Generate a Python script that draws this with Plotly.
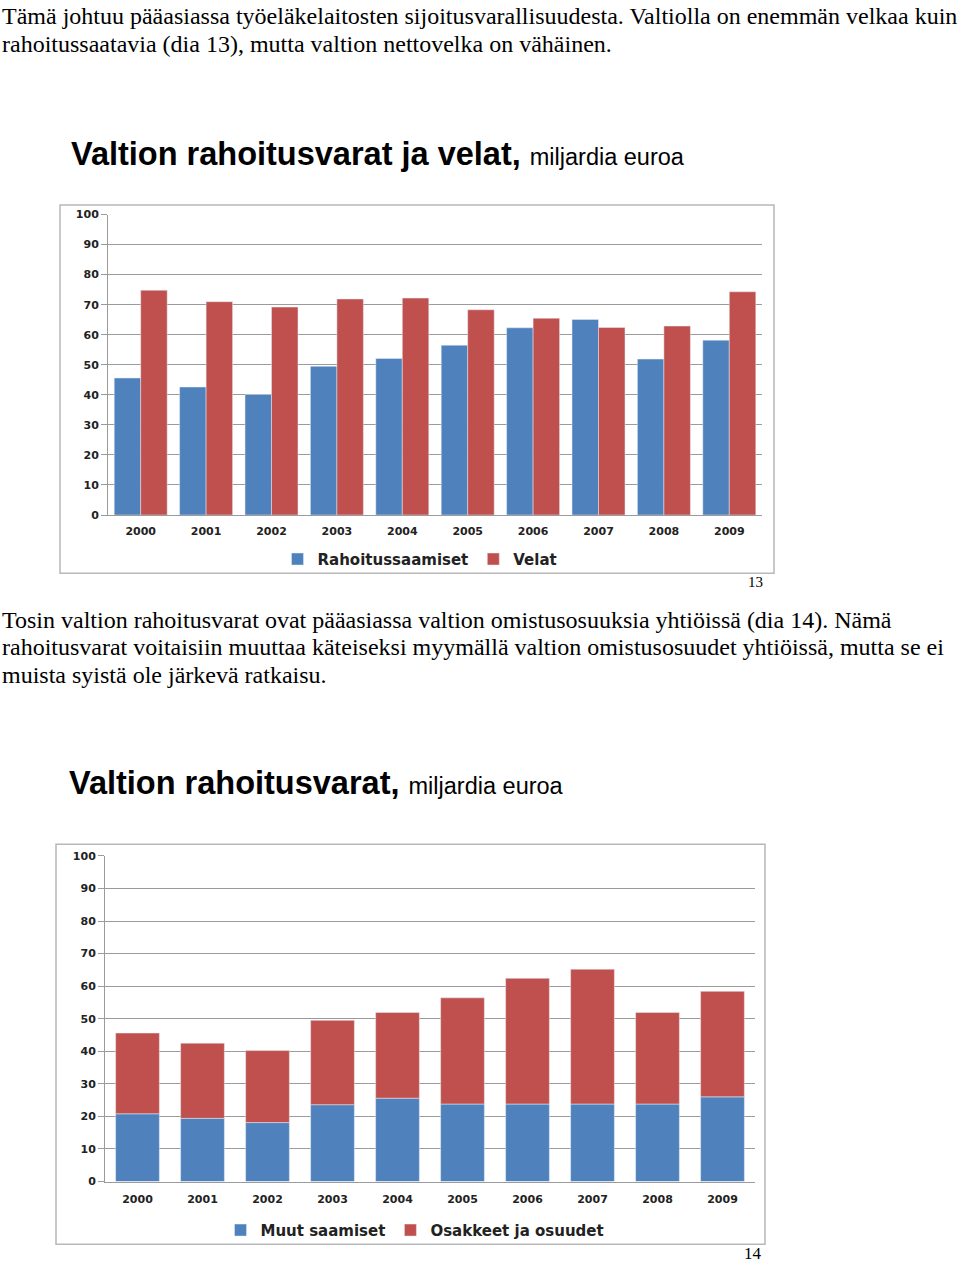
import plotly.graph_objects as go

W, H = 960, 1268


def px(x):
    return x / W


def py(y):
    return 1 - y / H


# ---------------- data ----------------
years = ["2000", "2001", "2002", "2003", "2004", "2005", "2006", "2007", "2008", "2009"]

# chart 1: Valtion rahoitusvarat ja velat
rahoitussaamiset = [45.6, 42.6, 40.1, 49.5, 52.1, 56.5, 62.3, 65.1, 51.9, 58.2]
velat = [74.8, 71.0, 69.2, 71.9, 72.2, 68.3, 65.5, 62.4, 62.9, 74.3]

# chart 2: Valtion rahoitusvarat (stacked)
muut_saamiset = [20.8, 19.4, 18.1, 23.6, 25.6, 23.8, 23.8, 23.8, 23.8, 26.0]
osakkeet_ja_osuudet = [24.8, 23.1, 22.1, 25.9, 26.3, 32.6, 38.6, 41.4, 28.1, 32.4]

y_ticks = [0, 10, 20, 30, 40, 50, 60, 70, 80, 90, 100]

BLUE = "#4F81BD"
RED = "#C0504D"
GRID = "#9b9b9b"
TICKFONT = dict(family="DejaVu Sans", size=11, color="#222222", weight="bold")
LEGFONT = dict(family="DejaVu Sans", size=15, color="#222222", weight="bold")

para1 = [
    "Tämä johtuu pääasiassa työeläkelaitosten sijoitusvarallisuudesta. Valtiolla on enemmän velkaa kuin",
    "rahoitussaatavia (dia 13), mutta valtion nettovelka on vähäinen.",
]
para2 = [
    "Tosin valtion rahoitusvarat ovat pääasiassa valtion omistusosuuksia yhtiöissä (dia 14). Nämä",
    "rahoitusvarat voitaisiin muuttaa käteiseksi myymällä valtion omistusosuudet yhtiöissä, mutta se ei",
    "muista syistä ole järkevä ratkaisu.",
]

fig = go.Figure()

# chart 1 bars (grouped via explicit offsets)
bw1 = 0.405
fig.add_trace(go.Bar(x=years, y=rahoitussaamiset, name="Rahoitussaamiset", marker_color=BLUE,
                     width=bw1, offset=-bw1, xaxis="x", yaxis="y", legend="legend"))
fig.add_trace(go.Bar(x=years, y=velat, name="Velat", marker_color=RED,
                     width=bw1, offset=0, xaxis="x", yaxis="y", legend="legend"))

# chart 2 bars (stacked via base)
bw2 = 0.673
fig.add_trace(go.Bar(x=years, y=muut_saamiset, name="Muut saamiset", marker_color=BLUE,
                     width=bw2, offset=-bw2 / 2, xaxis="x2", yaxis="y2", legend="legend2"))
fig.add_trace(go.Bar(x=years, y=osakkeet_ja_osuudet, base=muut_saamiset, name="Osakkeet ja osuudet",
                     marker_color=RED, width=bw2, offset=-bw2 / 2, xaxis="x2", yaxis="y2",
                     legend="legend2"))

xcommon = dict(type="category", showgrid=False, showline=True, linecolor=GRID, linewidth=1,
               ticks="", tickfont=TICKFONT, fixedrange=True)
ycommon = dict(range=[0, 100], tickvals=y_ticks, showgrid=True, gridcolor=GRID, gridwidth=1,
               showline=True, linecolor=GRID, linewidth=1, ticks="outside", ticklen=6,
               tickcolor=GRID, tickfont=TICKFONT, zeroline=False, fixedrange=True)

BODYFONT = dict(family="Liberation Serif", size=24, color="#000000")
annotations = []
for i, line in enumerate(para1):
    annotations.append(dict(text=line, x=0, y=py(10.5 + 28 * i), xref="paper", yref="paper",
                            xanchor="left", yanchor="middle", showarrow=False, font=BODYFONT))
for i, line in enumerate(para2):
    annotations.append(dict(text=line, x=0, y=py(620.5 + 27.5 * i), xref="paper", yref="paper",
                            xanchor="left", yanchor="middle", showarrow=False, font=BODYFONT))

annotations.append(dict(
    text="<b>Valtion rahoitusvarat ja velat,</b> <span style='font-size:23.5px'>miljardia euroa</span>",
    x=px(69), y=py(150), xref="paper", yref="paper", xanchor="left", yanchor="middle",
    showarrow=False, font=dict(family="Liberation Sans", size=32.5, color="#000000")))
annotations.append(dict(
    text="<b>Valtion rahoitusvarat,</b> <span style='font-size:23.5px'>miljardia euroa</span>",
    x=px(67), y=py(785), xref="paper", yref="paper", xanchor="left", yanchor="middle",
    showarrow=False, font=dict(family="Liberation Sans", size=32.5, color="#000000")))

annotations.append(dict(text="13", x=px(755), y=py(582), xref="paper", yref="paper",
                        xanchor="center", yanchor="middle", showarrow=False,
                        font=dict(family="Liberation Serif", size=15, color="#000000")))
annotations.append(dict(text="14", x=px(753), y=py(1260), xref="paper", yref="paper",
                        xanchor="center", yanchor="middle", showarrow=False,
                        font=dict(family="Liberation Serif", size=17, color="#000000")))

shapes = [
    dict(type="rect", xref="paper", yref="paper", x0=px(60), x1=px(774), y0=py(201), y1=py(573),
         line=dict(color="#b8b8b8", width=1.5), layer="below"),
    dict(type="rect", xref="paper", yref="paper", x0=px(56), x1=px(765), y0=py(847), y1=py(1251),
         line=dict(color="#b8b8b8", width=1.5), layer="below"),
]

fig.update_layout(
    width=W, height=H,
    margin=dict(l=0, r=0, t=0, b=0),
    paper_bgcolor="white", plot_bgcolor="white",
    barmode="overlay",
    xaxis=dict(domain=[px(108), px(762)], anchor="y", ticklabelstandoff=6, **xcommon),
    yaxis=dict(domain=[py(514.3), py(210.7)], anchor="x", **ycommon),
    xaxis2=dict(domain=[px(105), px(755)], anchor="y2", ticklabelstandoff=7, **xcommon),
    yaxis2=dict(domain=[py(1187.7), py(858.7)], anchor="x2", **ycommon),
    legend=dict(orientation="h", x=px(420), xanchor="center", y=py(559), yanchor="middle",
                font=LEGFONT, bgcolor="rgba(0,0,0,0)", itemwidth=30),
    legend2=dict(orientation="h", x=px(415), xanchor="center", y=py(1237), yanchor="middle",
                 font=LEGFONT, bgcolor="rgba(0,0,0,0)", itemwidth=30),
    annotations=annotations,
    shapes=shapes,
    showlegend=True,
)

fig.write_html("out.html")
